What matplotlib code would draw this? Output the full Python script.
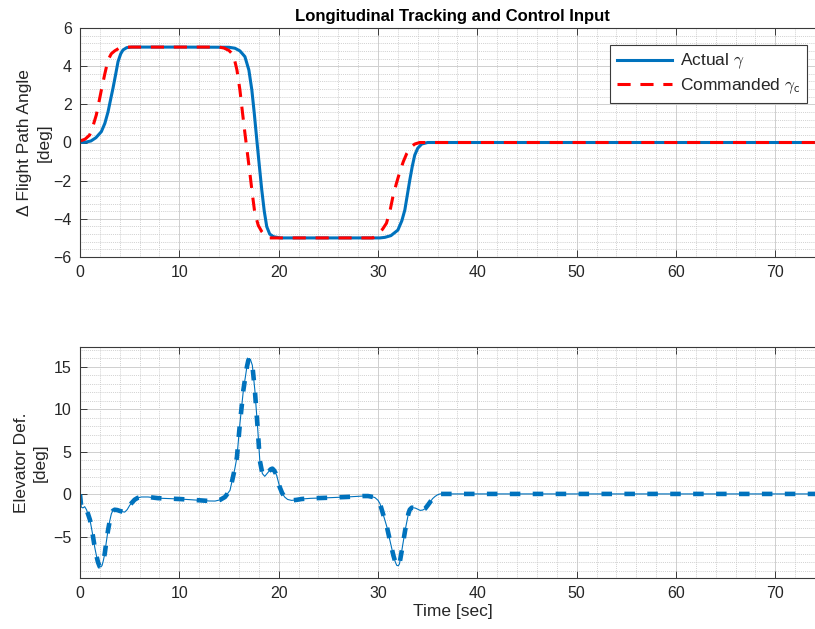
import matplotlib
matplotlib.use("Agg")
import matplotlib.pyplot as plt
from matplotlib.ticker import MultipleLocator

# flight path angle response [deg]
t_actual = [0, 0.6, 1.1, 1.6, 2.15, 2.5, 2.82, 3.1, 3.32, 3.6, 3.83, 4.1, 4.33, 4.7, 5.2,
            10, 15.0, 15.6, 16.1, 16.6, 17.0, 17.3, 17.55, 17.8, 18.05, 18.3, 18.55, 18.8,
            19.1, 19.5, 20.2, 25, 30.2, 30.7, 31.3, 32.0, 32.4, 32.7, 33.0, 33.2, 33.45,
            33.7, 34.0, 34.4, 35.0, 75]
gamma_actual = [0, 0.02, 0.08, 0.25, 0.57, 1.0, 1.6, 2.3, 2.84, 3.6, 4.24, 4.65, 4.85, 4.97, 5.0,
                5.0, 4.99, 4.94, 4.8, 4.5, 3.8, 2.75, 1.5, 0.13, -1.2, -2.49, -3.6, -4.41,
                -4.8, -4.94, -5.0, -5.0, -5.0, -4.97, -4.88, -4.59, -4.1, -3.54, -2.6, -1.97, -1.25,
                -0.66, -0.3, -0.08, 0.0, 0.0]

t_cmd = [0, 0.5, 0.97, 1.3, 1.64, 1.9, 2.15, 2.5, 2.82, 3.15, 3.49, 3.9, 4.3,
         14.0, 14.5, 15.0, 15.44, 15.8, 16.1, 16.35, 16.6, 16.85, 17.1, 17.35, 17.6, 17.95,
         18.3, 18.7, 19.1, 29.5, 30.0, 30.45, 30.85, 31.2, 31.5, 31.85, 32.2, 32.55, 32.9,
         33.3, 33.7, 34.2, 75]
gamma_cmd = [0.08, 0.17, 0.39, 0.85, 1.44, 2.1, 2.75, 3.6, 4.32, 4.65, 4.8, 4.93, 5.0,
             5.0, 4.95, 4.82, 4.59, 3.8, 2.75, 1.6, 0.5, -0.55, -1.6, -2.7, -3.7, -4.35,
             -4.67, -4.9, -5.0, -5.0, -4.76, -4.55, -4.23, -3.6, -2.84, -2.15, -1.53, -1.0, -0.57,
             -0.25, -0.08, 0.0, 0.0]

# elevator deflection [deg]
t_elev = [0, 0.05, 0.13, 0.3, 0.47, 0.65, 0.8, 1.0, 1.14, 1.3, 1.48, 1.65, 1.81, 1.98, 2.1,
          2.22, 2.35, 2.49, 2.65, 2.82, 3.0, 3.16, 3.3, 3.49, 3.75, 4.0, 4.3, 4.5, 4.75, 5.0,
          5.25, 5.5, 5.8, 6.17, 6.85, 7.85, 9, 10, 11, 12, 13, 13.6, 14.1, 14.6, 15.1, 15.4,
          15.6, 15.8, 16.1, 16.45, 16.8, 16.95, 17.05, 17.15, 17.35, 17.6, 17.9, 18.1, 18.36,
          18.6, 18.96, 19.2, 19.37, 19.55, 19.8, 20.1, 20.35, 20.6, 20.9, 21.3, 21.8, 22.3,
          23.2, 25, 27, 28.5, 29.0, 29.5, 29.7, 30.0, 30.2, 30.5, 30.9, 31.2, 31.55, 31.75,
          31.9, 32.05, 32.16, 32.4, 32.73, 33.06, 33.2, 33.4, 33.74, 34.0, 34.24, 34.5, 34.74,
          35.0, 35.25, 35.5, 35.75, 36.0, 36.25, 37, 75]
elevator = [0.0, -0.6, -1.5, -1.6, -1.45, -1.8, -2.28, -3.0, -3.86, -4.9, -6.22, -7.2, -7.99,
            -8.5, -8.55, -8.38, -7.8, -7.0, -5.6, -4.25, -3.1, -2.28, -1.95, -1.81, -1.85, -1.95,
            -2.05, -2.09, -1.8, -1.3, -0.95, -0.63, -0.42, -0.31, -0.31, -0.45, -0.5, -0.55,
            -0.62, -0.7, -0.78, -0.79, -0.65, -0.31, 0.47, 2.04, 3.1, 4.4, 8.35, 12.3, 15.0,
            15.8, 16.0, 15.9, 15.2, 12.3, 7.56, 4.0, 2.44, 2.12, 2.63, 2.95, 3.03, 2.8, 2.24,
            0.87, 0.15, -0.31, -0.6, -0.71, -0.65, -0.55, -0.47, -0.4, -0.3, -0.2, -0.2, -0.31,
            -0.39, -0.7, -1.1, -2.28, -3.86, -5.43, -7.2, -8.0, -8.38, -8.4, -8.19, -6.6, -4.25,
            -2.28, -1.8, -1.57, -1.61, -1.75, -1.89, -1.85, -1.69, -1.3, -0.9, -0.5, -0.24,
            -0.05, 0.05, 0.05, 0.05]

BLUE = "#0072BD"
AXIS_COLOR = "#3a3a3a"
TEXT_COLOR = "#262626"

plt.rcParams["font.family"] = ["Liberation Sans", "DejaVu Sans"]
plt.rcParams["mathtext.fontset"] = "cm"

W, H = 815, 629
fig = plt.figure(figsize=(W / 100, H / 100), dpi=100)
ax1 = fig.add_axes([80 / W, 1 - 257 / H, 745 / W, 229 / H])
ax2 = fig.add_axes([80 / W, 1 - 578 / H, 745 / W, 231 / H])


def style_axes(ax, y_minor):
    ax.set_xlim(0, 75)
    ax.xaxis.set_major_locator(MultipleLocator(10))
    ax.xaxis.set_minor_locator(MultipleLocator(2))
    ax.yaxis.set_minor_locator(MultipleLocator(y_minor))
    ax.grid(which="major", color="#cfcfcf", lw=0.7)
    ax.grid(which="minor", color="#c4c4c4", lw=0.6, ls=(0, (1, 1.3)))
    ax.set_axisbelow(True)
    ax.tick_params(which="major", direction="in", length=5, width=0.7, top=True, right=True,
                   colors=AXIS_COLOR, labelsize=11.5, pad=6)
    ax.tick_params(which="major", labelcolor=TEXT_COLOR)
    ax.tick_params(which="minor", length=0)
    for sp in ax.spines.values():
        sp.set_color(AXIS_COLOR)
        sp.set_linewidth(0.8)


# top: flight path angle tracking
ax1.plot(t_actual, gamma_actual, color=BLUE, lw=2.2, label=r"Actual $\gamma$")
ax1.plot(t_cmd, gamma_cmd, color="red", lw=2.2, ls=(0, (4.3, 3.2)),
         label=r"Commanded $\gamma_\mathsf{c}$")
ax1.set_ylim(-6, 6)
ax1.set_yticks(range(-6, 7, 2))
style_axes(ax1, 0.4)
ax1.set_ylabel("\u0394 Flight Path Angle\n[deg]", fontsize=12.5, color=TEXT_COLOR, linespacing=1.35)
ax1.yaxis.set_label_coords(-0.038, 0.5)
ax1.set_title("Longitudinal Tracking and Control Input", fontsize=12, fontweight="bold", pad=5)
leg = ax1.legend(loc="upper right", bbox_to_anchor=(0.976, 0.926), borderaxespad=0,
                 fancybox=False, framealpha=1, edgecolor=AXIS_COLOR, fontsize=12.5,
                 handlelength=3.2, handletextpad=0.45, labelspacing=0.3, borderpad=0.4)
leg.get_frame().set_linewidth(0.8)
for txt in leg.get_texts():
    txt.set_color(TEXT_COLOR)

# bottom: elevator deflection
ax2.plot(t_elev, elevator, color=BLUE, lw=0.8)
ax2.plot(t_elev, elevator, color=BLUE, lw=3.3, ls=(0, (2.3, 2.7)))
ax2.set_ylim(-9.85, 17.35)
ax2.set_yticks([-5, 0, 5, 10, 15])
style_axes(ax2, 1)
ax2.set_ylabel("Elevator Def.\n[deg]", fontsize=12.5, color=TEXT_COLOR, linespacing=1.35)
ax2.yaxis.set_label_coords(-0.043, 0.5)
ax2.set_xlabel("Time [sec]", fontsize=12.5, color=TEXT_COLOR, labelpad=2)

fig.savefig("out.png", dpi=100)
